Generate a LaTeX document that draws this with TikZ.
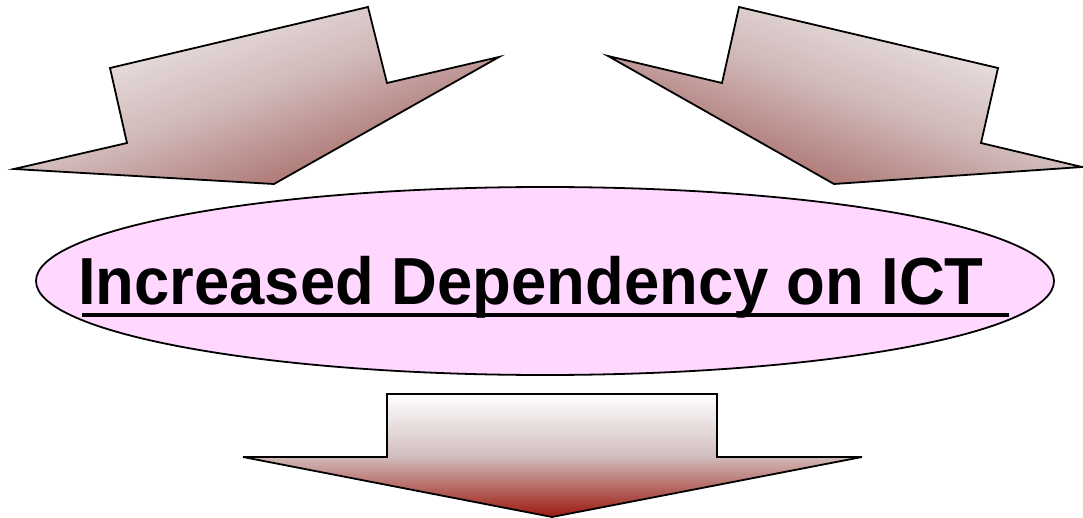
\documentclass[tikz,border=0pt]{standalone}
\usepackage{fontspec}
\setmainfont{Liberation Sans}
\definecolor{arrowlight}{RGB}{244,241,241}
\definecolor{arrowmid}{RGB}{208,184,184}
\definecolor{arrowdark}{RGB}{160,95,90}
\definecolor{downlight}{RGB}{255,255,255}
\definecolor{downmid}{RGB}{210,190,190}
\definecolor{downdark}{RGB}{155,25,15}
\definecolor{ovalfill}{RGB}{255,215,255}
\tikzset{
  outline/.style={draw=black, line width=1.8pt, line join=miter},
  slantarrow/.style={outline, top color=arrowlight, bottom color=arrowdark, middle color=arrowmid},
  downarrow/.style={outline, top color=downlight, bottom color=downdark, middle color=downmid},
  oval/.style={draw=black, line width=1.8pt, fill=ovalfill},
}
\begin{document}
\begin{tikzpicture}[x=1pt,y=-1pt]
\useasboundingbox (0,0) rectangle (1083,518);

% left block arrow, leaning down to the right
\shade[slantarrow, shading angle=20]
  (110,68) -- (368,7) -- (387,83) -- (499,57) -- (274,184) -- (14,169) -- (127,143) -- cycle;

% right block arrow, leaning down to the left
\shade[slantarrow, shading angle=-20]
  (739,7) -- (998,68) -- (981,143) -- (1082,167) -- (834,184) -- (608,56) -- (722,83) -- cycle;

% central oval with the title
\draw[oval] (545,281) ellipse [x radius=509, y radius=94];
\node[anchor=base west, inner sep=0pt, yscale=1.05,
      font=\fontsize{63.4}{70}\selectfont\bfseries]
  (title) at (78,305) {Increased Dependency on ICT};
\draw[line width=3.2pt] (82,315) -- (1009,315);

% downward block arrow
\shade[downarrow]
  (387,394) -- (717,394) -- (717,457) -- (862,457) -- (552,517) -- (243,457) -- (387,457) -- cycle;
\end{tikzpicture}
\end{document}
